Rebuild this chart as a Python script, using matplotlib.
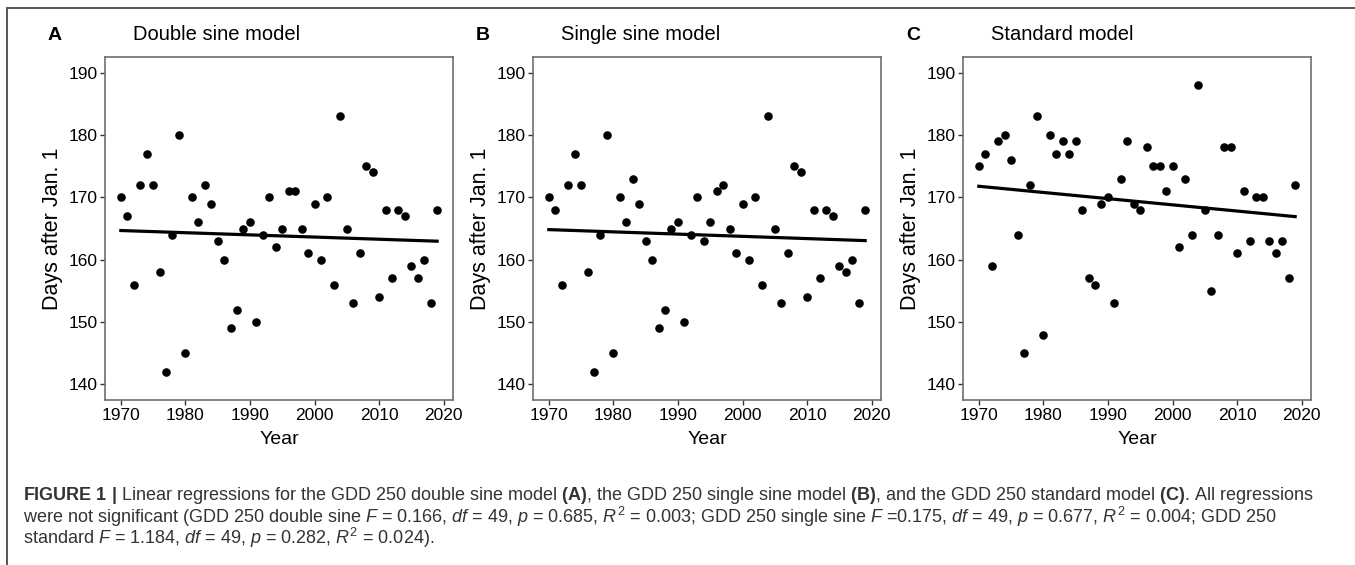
import numpy as np
import matplotlib
matplotlib.use("Agg")
import matplotlib.pyplot as plt
from matplotlib.patches import Rectangle

plt.rcParams['font.family'] = ['Liberation Sans', 'DejaVu Sans']
plt.rcParams['mathtext.fontset'] = 'custom'
plt.rcParams['mathtext.rm'] = 'Liberation Sans'
plt.rcParams['mathtext.it'] = 'Liberation Sans:italic'
plt.rcParams['mathtext.bf'] = 'Liberation Sans:bold'

# years 1970-2019
years = np.arange(1970, 2020)

# GDD 250 double sine model
double_sine = [170, 167, 156, 172, 177, 172, 158, 142, 164, 180,
               145, 170, 166, 172, 169, 163, 160, 149, 152, 165,
               166, 150, 164, 170, 162, 165, 171, 171, 165, 161,
               169, 160, 170, 156, 183, 165, 153, 161, 175, 174,
               154, 168, 157, 168, 167, 159, 157, 160, 153, 168]

# GDD 250 single sine model
single_sine = [170, 168, 156, 172, 177, 172, 158, 142, 164, 180,
               145, 170, 166, 173, 169, 163, 160, 149, 152, 165,
               166, 150, 164, 170, 163, 166, 171, 172, 165, 161,
               169, 160, 170, 156, 183, 165, 153, 161, 175, 174,
               154, 168, 157, 168, 167, 159, 158, 160, 153, 168]

# GDD 250 standard model
standard = [175, 177, 159, 179, 180, 176, 164, 145, 172, 183,
            148, 180, 177, 179, 177, 179, 168, 157, 156, 169,
            170, 153, 173, 179, 169, 168, 178, 175, 175, 171,
            175, 162, 173, 164, 188, 168, 155, 164, 178, 178,
            161, 171, 163, 170, 170, 163, 161, 163, 157, 172]

panel_letters = ['A', 'B', 'C']
panel_titles = ['Double sine model', 'Single sine model', 'Standard model']
series = [double_sine, single_sine, standard]

W, H = 1355, 565
fig = plt.figure(figsize=(W / 100, H / 100), dpi=100)

# outer frame of the figure box (cropped at right and bottom)
fig.patches.append(Rectangle((7 / W, -0.1), 1.2, 1 - 8 / H + 0.1, transform=fig.transFigure,
                             fill=False, edgecolor='#555555', linewidth=1.4))

lefts = [105, 533, 963]
ax_w, ax_top, ax_bot = 348, 57, 400
spine_col = '#6e6e6e'

for i, (lx, vals) in enumerate(zip(lefts, series)):
    ax = fig.add_axes([lx / W, 1 - ax_bot / H, ax_w / W, (ax_bot - ax_top) / H])
    ax.scatter(years, vals, s=38, color='black', zorder=3, linewidths=0)
    # least-squares fit line over the observed years
    slope, icpt = np.polyfit(years, vals, 1)
    ax.plot(years[[0, -1]], slope * years[[0, -1]] + icpt, color='black', lw=2.3, zorder=2)
    ax.set_xlim(1967.55, 2021.45)
    ax.set_ylim(137.5, 192.5)
    ax.set_xticks([1970, 1980, 1990, 2000, 2010, 2020])
    ax.set_yticks([140, 150, 160, 170, 180, 190])
    ax.tick_params(labelsize=12.5, length=3.5, width=1, color='#333333', pad=2, labelcolor='black')
    for sp in ax.spines.values():
        sp.set_color(spine_col)
        sp.set_linewidth(1.2)
    ax.set_xlabel('Year', fontsize=14, labelpad=6)
    ax.set_ylabel('Days after Jan. 1', fontsize=15.5, labelpad=4)
    fig.text((lx - 50) / W, 1 - 35 / H, panel_letters[i], fontsize=14, fontweight='bold',
             ha='center', va='center')
    fig.text((lx + 28) / W, 1 - 35 / H, panel_titles[i], fontsize=14.5, ha='left', va='center')

caption = [
    r'$\mathbf{FIGURE\ 1\ |}$ Linear regressions for the GDD 250 double sine model $\mathbf{(A)}$, '
    r'the GDD 250 single sine model $\mathbf{(B)}$, and the GDD 250 standard model $\mathbf{(C)}$. All regressions',
    r'were not significant (GDD 250 double sine $\mathit{F}$ = 0.166, $\mathit{df}$ = 49, $\mathit{p}$ = 0.685, '
    r'$\mathit{R}^2$ = 0.003; GDD 250 single sine $\mathit{F}$ =0.175, $\mathit{df}$ = 49, $\mathit{p}$ = 0.677, '
    r'$\mathit{R}^2$ = 0.004; GDD 250',
    r'standard $\mathit{F}$ = 1.184, $\mathit{df}$ = 49, $\mathit{p}$ = 0.282, $\mathit{R}^2$ = 0.024).',
]
for line, y in zip(caption, [495, 516.5, 538]):
    fig.text(23 / W, 1 - y / H, line, fontsize=13, color='#333333', ha='left', va='center')

fig.savefig('out.png', dpi=100)
